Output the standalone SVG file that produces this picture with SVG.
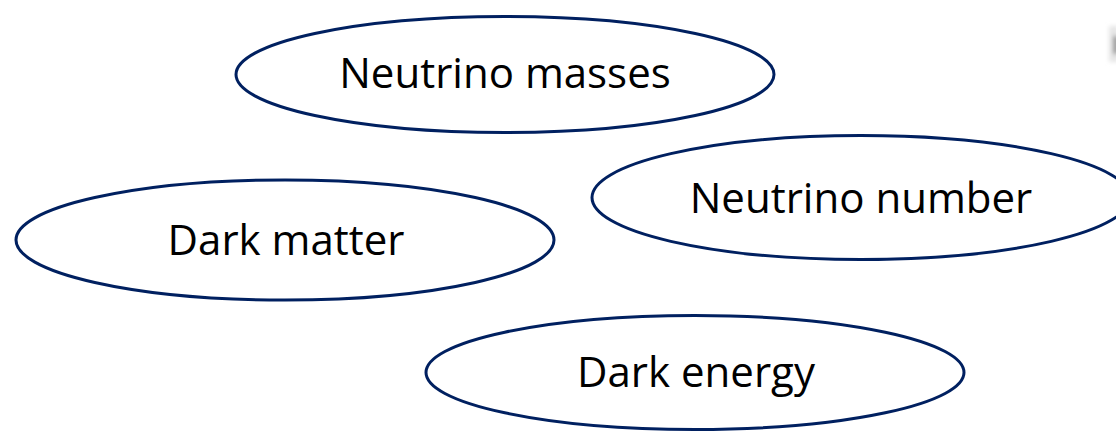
<svg xmlns="http://www.w3.org/2000/svg" width="1116" height="431" viewBox="0 0 1116 431">
  <style>
    .topic ellipse { fill: #ffffff; stroke: #002060; stroke-width: 3; }
    .topic text { font-family: "Open Sans", "Liberation Sans", sans-serif; font-size: 42px; fill: #000000; text-anchor: middle; }
  </style>
  <defs>
    <filter id="soft" x="-50%" y="-50%" width="200%" height="200%">
      <feGaussianBlur stdDeviation="2"/>
    </filter>
  </defs>
  <rect width="1116" height="431" fill="#ffffff"/>

  <!-- faint mark at the right edge -->
  <g id="edge-mark" filter="url(#soft)">
    <rect x="1109" y="26" width="10" height="36" fill="#e6e6e6"/>
    <rect x="1113" y="36" width="6" height="18" fill="#9a9a9a"/>
  </g>

  <g id="connectors"></g>

  <g id="neutrino-masses" class="topic">
    <ellipse cx="505" cy="74.5" rx="269" ry="58"/>
    <text x="505" y="88">Neutrino masses</text>
  </g>

  <g id="neutrino-number" class="topic">
    <ellipse cx="861" cy="197.5" rx="269" ry="62"/>
    <text x="861" y="213">Neutrino number</text>
  </g>

  <g id="dark-matter" class="topic">
    <ellipse cx="285" cy="240" rx="269" ry="60"/>
    <text x="286" y="255">Dark matter</text>
  </g>

  <g id="dark-energy" class="topic">
    <ellipse cx="695" cy="372.5" rx="269" ry="57"/>
    <text x="696" y="387">Dark energy</text>
  </g>
</svg>
